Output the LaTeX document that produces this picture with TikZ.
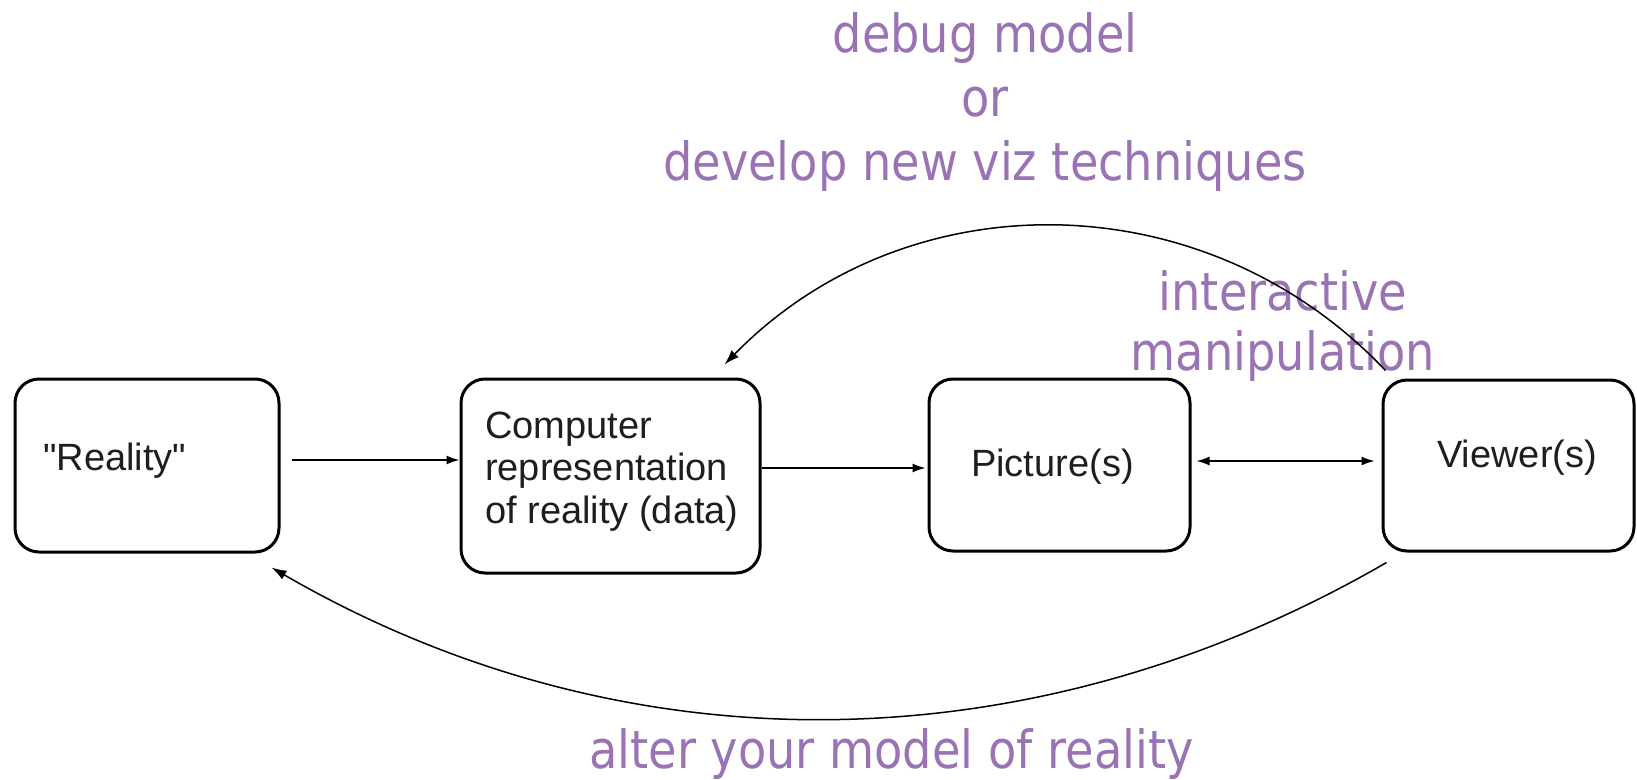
\documentclass[tikz,border=0pt]{standalone}
\usepackage{fontspec}
\usepackage{tikz}
\usetikzlibrary{arrows.meta, positioning, calc}
\newfontfamily\boxfont{Liberation Sans}
\newfontfamily\notefont[FakeStretch=0.88]{DejaVu Sans}
\definecolor{notepurple}{RGB}{154, 115, 180}
\definecolor{boxink}{RGB}{30, 30, 30}

\begin{document}
\begin{tikzpicture}[x=1pt, y=-1pt,
    box/.style={draw=black, line width=3pt, rounded corners=24pt, inner sep=0pt},
    boxtext/.style={text=boxink, inner sep=0pt, align=left, font={\boxfont\fontsize{38}{42.5}\selectfont}},
    note/.style={text=notepurple, inner sep=0pt, align=center, font={\notefont\fontsize{52.6}{64}\selectfont}},
    link/.style={line width=1.5pt, -{Latex[length=13pt, width=9pt]}},
    loop/.style={line width=1.5pt, -{Latex[length=15pt, width=10pt]}}]
    \useasboundingbox (0,0) rectangle (1637,779);

    % Boxes
    \node[box, minimum width=264pt, minimum height=173pt] (reality) at (147,465.5) {};
    \node[box, minimum width=299pt, minimum height=194pt] (computer) at (610.5,476) {};
    \node[box, minimum width=261pt, minimum height=172pt] (picture) at (1059.5,465) {};
    \node[box, minimum width=251pt, minimum height=171pt] (viewer) at (1508.5,465.5) {};

    % Box texts (base = last line)
    \node[boxtext, anchor=base west] (realitytxt) at (43,470) {"Reality"};
    \node[boxtext, anchor=base west] (computertxt) at (485,523) {Computer\\representation\\of reality (data)};
    \node[boxtext, anchor=base west] (picturetxt) at (971,476) {Picture(s)};
    \node[boxtext, anchor=base west] (viewertxt) at (1437,467) {Viewer(s)};

    % Labels
    \node[note, anchor=base] (debuglbl) at (985,180) {debug model\\or\\develop new viz techniques};
    \node[note, anchor=base, font={\notefont\fontsize{52.6}{60}\selectfont}] (interlbl) at (1283,370) {interactive\\manipulation};
    \node[note, anchor=base] (alterlbl) at (891.5,768) {alter your model of reality};

    % Straight arrows
    \draw[link, shorten <=11pt] ([yshift=5.5pt]reality.east) -- ([yshift=5.5pt]reality.east -| computer.west);
    \draw[link, shorten >=2pt] ([yshift=8pt]computer.east) -- ([yshift=8pt]computer.east -| picture.west);
    \draw[link, {Latex[length=13pt, width=9pt]}-{Latex[length=13pt, width=9pt]}, shorten <=5pt, shorten >=7pt]
        ([yshift=4pt]picture.east) -- ([yshift=4pt]picture.east -| viewer.west);

    % Feedback loops
    \draw[loop] ([shift={(4pt,8pt)}]viewer.north west)
        .. controls +(-180pt,190pt) and +(183pt,187pt) .. ([shift={(-37pt,13pt)}]computer.north east);
    \draw[loop] ([shift={(5pt,-10pt)}]viewer.south west)
        .. controls +(-354pt,-205pt) and +(354pt,-205pt) .. ([shift={(-9pt,-14pt)}]reality.south east);
\end{tikzpicture}
\end{document}
